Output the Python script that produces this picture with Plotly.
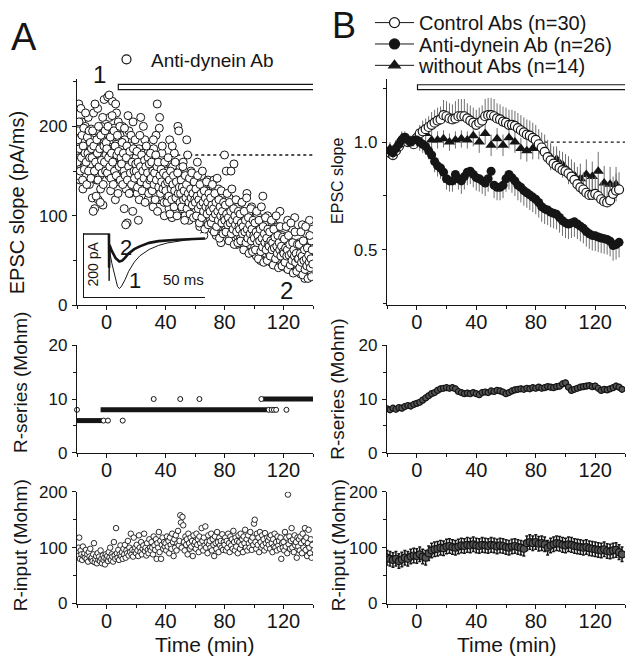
import plotly.graph_objects as go

# ================= DATA =================
# Panel A top: EPSC slope (pA/ms), one cell. Two interleaved sample sets, each every 0.4 min
a_epsc_start, a_epsc_step = -20.0, 0.4
a_epsc = [
    172, 150, 195, 225, 165, 140, 180, 160, 205, 175, 130, 185, 168, 155, 200, 178, 145, 190, 162, 210, 172, 135, 183, 158, 197,
    185, 120, 165, 215, 150, 108, 175, 195, 140, 160, 220, 118, 172, 188, 145, 130, 200, 165, 178, 112, 155, 230, 183, 148, 168,
    192, 160, 233, 175, 145, 210, 168, 128, 185, 155, 228, 170, 140, 198, 162, 118, 180, 215, 150, 172, 205, 138, 165, 190, 158,
    175, 150, 200, 140, 165, 108, 185, 155, 130, 170, 92, 160, 145, 195, 158, 125, 178, 150, 140, 168, 205, 152, 133, 162, 148,
    165, 140, 125, 158, 95, 175, 150, 135, 210, 160, 145, 120, 170, 152, 138, 185, 148, 128, 160, 142, 118, 172, 150, 135, 155,
    150, 130, 165, 142, 110, 175, 138, 155, 125, 190, 145, 225, 135, 160, 118, 210, 148, 128, 140, 170, 120, 155, 135, 100, 145,
    135, 150, 118, 160, 128, 140, 108, 185, 132, 122, 145, 98, 155, 130, 115, 170, 138, 125, 148, 112, 135, 200, 128, 142, 118,
    130, 115, 145, 108, 125, 160, 118, 135, 100, 128, 120, 185, 112, 140, 125, 95, 132, 118, 150, 110, 122, 138, 105, 128, 115,
    120, 105, 135, 112, 160, 98, 125, 115, 88, 130, 108, 145, 118, 100, 122, 78, 135, 110, 102, 128, 115, 95, 140, 108, 118,
    110, 95, 125, 102, 85, 118, 100, 140, 92, 112, 105, 78, 120, 98, 108, 130, 88, 115, 100, 70, 110, 95, 125, 102, 90,
    168, 100, 85, 150, 110, 92, 78, 105, 120, 88, 98, 150, 72, 108, 95, 85, 158, 100, 115, 82, 95, 68, 105, 90, 112,
    88, 100, 75, 95, 115, 82, 70, 92, 105, 80, 62, 98, 85, 125, 75, 90, 102, 68, 88, 78, 95, 110, 72, 85, 60,
    80, 65, 92, 75, 55, 85, 100, 70, 62, 88, 78, 50, 95, 72, 82, 122, 60, 75, 90, 68, 58, 80, 72, 100, 65,
    70, 58, 85, 65, 48, 78, 62, 95, 55, 72, 68, 45, 82, 60, 75, 52, 88, 65, 58, 105, 70, 50, 62, 78, 55,
    62, 50, 75, 55, 42, 68, 58, 95, 48, 60, 72, 40, 55, 65, 85, 52, 45, 62, 58, 98, 50, 38, 68, 55, 60,
    55, 45, 70, 50, 35, 62, 48, 90, 42, 58, 52, 30, 65, 48, 80, 55, 40, 60, 45, 95, 52, 38, 72, 50, 85,
]
a_epsc2_start = -19.8
a_epsc2 = [
    160, 185, 145, 205, 175, 150, 220, 165, 190, 140, 178, 198, 152, 170, 215, 160, 135, 188, 170, 150, 195, 165, 182, 142, 175,
    165, 195, 105, 178, 150, 225, 160, 122, 185, 170, 140, 200, 155, 175, 115, 190, 162, 148, 210, 135, 178, 160, 195, 150, 182,
    175, 148, 200, 165, 235, 155, 188, 142, 170, 212, 160, 135, 195, 150, 178, 225, 145, 168, 190, 125, 172, 155, 200, 140, 165,
    158, 182, 135, 170, 150, 198, 145, 90, 165, 178, 140, 212, 155, 125, 172, 148, 190, 135, 160, 105, 175, 150, 142, 185, 158,
    150, 172, 132, 160, 145, 118, 190, 155, 138, 168, 128, 150, 200, 142, 162, 115, 155, 178, 135, 148, 165, 125, 158, 140, 170,
    142, 160, 128, 150, 185, 135, 148, 118, 168, 140, 155, 105, 160, 132, 198, 145, 125, 152, 138, 178, 130, 148, 115, 160, 135,
    128, 145, 115, 138, 165, 122, 140, 102, 150, 130, 118, 178, 135, 145, 110, 128, 160, 120, 138, 100, 148, 125, 195, 132, 115,
    125, 140, 110, 132, 155, 118, 128, 95, 145, 120, 135, 108, 168, 125, 115, 142, 102, 130, 120, 148, 112, 125, 98, 138, 118,
    115, 130, 100, 122, 145, 108, 118, 92, 135, 112, 125, 98, 150, 115, 105, 128, 85, 120, 110, 138, 102, 115, 90, 125, 108,
    105, 120, 92, 112, 135, 98, 108, 82, 125, 102, 115, 88, 142, 105, 95, 118, 75, 110, 100, 128, 92, 105, 80, 115, 98,
    95, 112, 82, 102, 125, 90, 98, 72, 115, 92, 105, 80, 130, 95, 85, 108, 68, 100, 90, 118, 82, 95, 70, 105, 88,
    85, 102, 72, 92, 115, 80, 88, 62, 105, 82, 95, 70, 120, 85, 75, 98, 58, 90, 80, 108, 72, 85, 60, 95, 78,
    75, 92, 62, 82, 105, 70, 78, 52, 95, 72, 85, 60, 110, 75, 65, 88, 48, 80, 70, 98, 62, 75, 50, 85, 68,
    66, 82, 55, 72, 95, 62, 70, 45, 85, 64, 76, 52, 100, 66, 58, 78, 42, 70, 62, 88, 55, 66, 44, 76, 60,
    58, 74, 48, 64, 88, 55, 62, 40, 78, 56, 68, 45, 92, 58, 50, 70, 36, 62, 55, 82, 48, 58, 38, 68, 52,
    52, 68, 42, 58, 82, 48, 55, 34, 72, 50, 62, 40, 88, 52, 44, 64, 30, 56, 48, 78, 42, 52, 32, 62, 46,
]
a_epsc_time = [round(a_epsc_start + i * a_epsc_step, 2) for i in range(len(a_epsc))]
a_epsc2_time = [round(a_epsc2_start + i * a_epsc_step, 2) for i in range(len(a_epsc2))]
a_baseline = 168          # dotted reference level (pA/ms)
a_baseline_from = 48      # min
a_ab_on, a_ab_off = 8, 141  # antibody application (min)

# Inset: EPSC traces (ms, pA)
ins_t1 = [0, 13.2, 13.4, 13.5, 13.7, 15, 16.5, 18, 19, 20, 22, 24, 27, 30, 35, 40, 45, 50, 55, 60, 65]
ins_i1 = [0, 0, 6, -165, -60, -105, -150, -185, -192, -186, -162, -132, -100, -78, -56, -42, -33, -27, -23, -20, -18]
ins_t2 = [0, 13.2, 13.4, 13.5, 13.7, 15, 17, 19, 20.5, 22, 24, 27, 30, 35, 40, 50, 60, 65]
ins_i2 = [0, 0, 8, -120, -40, -62, -86, -98, -95, -85, -70, -55, -45, -33, -27, -22, -19, -18]

# Panel A middle: R-series (Mohm) — continuous runs and isolated readings
a_rs_level = [6, 8, 10]
a_rs_from = [-20, -4, 106]
a_rs_to = [-3, 109, 140]
a_rs_out_t = [-20, -2, 1, 11, 32, 50, 63, 105, 110, 112, 113.5, 115, 122]
a_rs_out_v = [8, 6, 6, 6, 10, 10, 10, 10, 8, 8, 8, 8, 8]

# Panel A bottom: R-input (Mohm), every 0.5 min from -20 min
a_rin_start, a_rin_step = -20.0, 0.5
a_rin = [
    92, 85, 100, 118, 80, 95, 88, 78, 102, 85, 90, 82, 96, 80, 88, 75, 92, 84, 98, 80,
    82, 76, 88, 108, 74, 80, 85, 72, 90, 78, 84, 76, 95, 80, 72, 86, 78, 82, 70, 88,
    80, 85, 76, 92, 82, 100, 78, 88, 84, 75, 110, 86, 80, 135, 90, 82, 96, 78, 88, 104,
    85, 92, 80, 98, 88, 105, 82, 95, 90, 112, 86, 100, 92, 125, 88, 96, 84, 118, 94, 100,
    90, 105, 95, 85, 122, 100, 92, 110, 88, 98, 104, 125, 94, 100, 86, 108, 96, 90, 115, 100,
    95, 110, 100, 88, 120, 104, 96, 115, 80, 108, 100, 128, 92, 112, 80, 105, 118, 98, 110, 102,
    108, 95, 120, 102, 112, 90, 118, 105, 98, 125, 110, 85, 115, 100, 122, 95, 108, 130, 104, 112,
    158, 145, 100, 155, 140, 110, 95, 120, 105, 115, 88, 125, 108, 98, 118, 102, 112, 85, 122, 106,
    110, 98, 125, 105, 115, 92, 120, 108, 100, 135, 112, 95, 118, 104, 138, 100, 110, 90, 122, 106,
    112, 100, 125, 95, 115, 105, 85, 120, 108, 98, 128, 110, 92, 118, 104, 112, 100, 124, 96, 110,
    105, 118, 95, 112, 100, 125, 108, 92, 120, 104, 115, 98, 130, 110, 95, 118, 102, 112, 90, 122,
    110, 98, 125, 105, 115, 92, 120, 108, 132, 100, 115, 95, 122, 108, 100, 128, 112, 96, 118, 105,
    143, 150, 110, 98, 125, 105, 118, 92, 128, 110, 100, 122, 104, 115, 95, 126, 108, 100, 118, 112,
    105, 118, 98, 122, 108, 92, 115, 102, 125, 100, 110, 95, 120, 104, 112, 98, 118, 80, 108, 100,
    110, 95, 128, 102, 118, 90, 195, 106, 120, 98, 112, 135, 100, 115, 92, 122, 104, 110, 82, 118,
    102, 115, 95, 120, 108, 90, 125, 100, 112, 135, 96, 118, 85, 108, 132, 100, 90, 115, 82, 105,
]
a_rin_time = [round(a_rin_start + i * a_rin_step, 2) for i in range(len(a_rin))]

# Panel B top: normalised EPSC slope, means every 2 min from -18 min
b_time = list(range(-18, 138, 2))
b_ctl = [0.95, 0.94, 0.96, 0.98, 1.00, 1.02, 1.00, 1.00, 0.99, 1.02,
         1.04, 1.05, 1.06, 1.07, 1.08, 1.09, 1.10, 1.105, 1.125, 1.12,
         1.11, 1.105, 1.11, 1.12, 1.12, 1.12, 1.11, 1.10, 1.09, 1.08,
         1.09, 1.10, 1.12, 1.125, 1.125, 1.12, 1.11, 1.105, 1.095, 1.09,
         1.08, 1.08, 1.075, 1.065, 1.055, 1.045, 1.035, 1.03, 1.02, 1.01,
         0.99, 0.975, 0.955, 0.93, 0.915, 0.90, 0.89, 0.88, 0.87, 0.865,
         0.855, 0.84, 0.825, 0.805, 0.79, 0.78, 0.765, 0.755, 0.755, 0.76,
         0.75, 0.735, 0.725, 0.72, 0.73, 0.76, 0.775, 0.78]
b_ctl_err = [0.03, 0.03, 0.03, 0.03, 0.03, 0.03, 0.03, 0.03, 0.03, 0.04,
             0.04, 0.05, 0.05, 0.05, 0.06, 0.06, 0.06, 0.06, 0.07, 0.07,
             0.07, 0.07, 0.08, 0.08, 0.08, 0.08, 0.07, 0.07, 0.07, 0.07,
             0.07, 0.07, 0.08, 0.08, 0.08, 0.08, 0.07, 0.07, 0.07, 0.07,
             0.07, 0.07, 0.07, 0.07, 0.07, 0.07, 0.07, 0.07, 0.07, 0.07,
             0.07, 0.07, 0.08, 0.08, 0.08, 0.08, 0.08, 0.08, 0.08, 0.08,
             0.08, 0.08, 0.08, 0.08, 0.08, 0.08, 0.08, 0.08, 0.08, 0.08,
             0.08, 0.08, 0.08, 0.08, 0.08, 0.08, 0.08, 0.08]
b_ad = [0.96, 0.95, 0.97, 0.99, 1.01, 1.02, 1.01, 1.00, 1.01, 1.01,
        1.00, 0.99, 0.98, 0.96, 0.94, 0.91, 0.89, 0.88, 0.86, 0.83,
        0.82, 0.82, 0.85, 0.83, 0.82, 0.84, 0.86, 0.865, 0.85, 0.835,
        0.83, 0.82, 0.81, 0.83, 0.865, 0.80, 0.79, 0.79, 0.80, 0.83,
        0.85, 0.835, 0.82, 0.80, 0.79, 0.775, 0.765, 0.755, 0.745, 0.735,
        0.72, 0.70, 0.69, 0.685, 0.675, 0.67, 0.665, 0.65, 0.635, 0.625,
        0.62, 0.625, 0.63, 0.62, 0.61, 0.60, 0.585, 0.575, 0.567, 0.565,
        0.56, 0.555, 0.552, 0.548, 0.54, 0.52, 0.525, 0.535]
b_ad_err = [0.03, 0.03, 0.03, 0.03, 0.03, 0.03, 0.03, 0.03, 0.03, 0.03,
            0.04, 0.04, 0.04, 0.04, 0.04, 0.05, 0.05, 0.05, 0.05, 0.05,
            0.05, 0.05, 0.05, 0.05, 0.06, 0.06, 0.06, 0.06, 0.06, 0.06,
            0.06, 0.06, 0.06, 0.06, 0.06, 0.06, 0.06, 0.06, 0.06, 0.06,
            0.07, 0.07, 0.07, 0.07, 0.07, 0.07, 0.07, 0.07, 0.07, 0.07,
            0.07, 0.07, 0.07, 0.07, 0.07, 0.07, 0.07, 0.07, 0.07, 0.07,
            0.07, 0.07, 0.07, 0.07, 0.07, 0.07, 0.07, 0.07, 0.07, 0.07,
            0.07, 0.07, 0.07, 0.07, 0.07, 0.07, 0.07, 0.07]
b_tri_time = list(range(-18, 135, 4))
b_tri = [0.97, 0.98, 1.02, 1.01, 1.00, 1.01, 1.04, 1.01, 1.01, 1.015,
         1.00, 1.01, 1.015, 1.01, 1.03, 1.00, 1.04, 0.985, 1.015, 0.985,
         1.02, 1.00, 0.97, 0.96, 0.97, 0.97, 0.96, 0.93, 0.92, 0.895,
         0.865, 0.845, 0.83, 0.85, 0.84, 0.865, 0.81, 0.805, 0.805]
b_tri_err = [0.03, 0.03, 0.03, 0.03, 0.03, 0.03, 0.04, 0.04, 0.04, 0.04,
             0.04, 0.04, 0.04, 0.04, 0.05, 0.05, 0.05, 0.05, 0.05, 0.05,
             0.05, 0.05, 0.05, 0.05, 0.05, 0.05, 0.05, 0.06, 0.06, 0.06,
             0.06, 0.06, 0.07, 0.07, 0.07, 0.09, 0.08, 0.08, 0.08]
b_baseline = 1.0
b_baseline_from = 82
b_ab_on, b_ab_off = 0.5, 141

# Panel B middle / bottom: mean R-series and R-input, every 2 min from -20 min
b_r_time = list(range(-20, 139, 2))
b_rs = [8.2, 8.0, 8.3, 8.1, 8.4, 8.3, 8.6, 8.8, 8.7, 9.0,
        9.2, 9.4, 9.8, 10.2, 10.6, 11.0, 11.2, 11.6, 11.9, 12.0,
        12.1, 12.0, 12.1, 11.9, 11.4, 11.2, 11.0, 11.1, 11.0, 11.2,
        11.0, 10.8, 11.2, 11.3, 11.2, 11.5, 11.4, 11.6, 11.5, 11.3,
        11.0, 11.2, 11.5, 11.7, 11.8, 11.9, 11.8, 12.0, 11.9, 12.1,
        12.0, 12.2, 12.0, 12.1, 12.3, 12.2, 12.1, 12.3, 12.4, 12.8,
        13.0, 12.2, 11.6, 11.8, 12.0, 12.2, 12.3, 12.4, 12.5, 12.3,
        12.4, 12.0, 11.6, 11.8, 11.7, 11.9, 12.1, 12.4, 12.2, 11.8]
b_rs_err = 0.6
b_rin = [82, 80, 78, 80, 76, 79, 82, 80, 84, 86,
         85, 88, 84, 82, 90, 95, 97, 98, 100, 99,
         102, 103, 101, 100, 102, 104, 103, 105, 104, 106,
         104, 103, 105, 104, 103, 105, 104, 102, 104, 103,
         101, 100, 102, 103, 101, 100, 98, 108, 110, 108,
         110, 107, 108, 106, 100, 104, 106, 108, 107, 105,
         104, 106, 105, 103, 102, 101, 100, 101, 99, 98,
         97, 96, 95, 97, 94, 93, 95, 96, 92, 88]
b_rin_err = 13

# ================= FIGURE =================
W, H = 628, 665
def px(x): return x / W
def py(y): return 1 - y / H

INK = "#151515"
FONT = "Liberation Sans, Arial, sans-serif"

fig = go.Figure()

# --- A top
for tt, vv in ((a_epsc_time, a_epsc), (a_epsc2_time, a_epsc2)):
    fig.add_trace(go.Scatter(x=tt, y=vv, mode="markers", xaxis="x", yaxis="y",
                             marker=dict(symbol="circle", size=8, color="white", line=dict(color=INK, width=1)),
                             showlegend=False))
# legend entry for A
fig.add_trace(go.Scatter(x=[None], y=[None], mode="markers", name="Anti-dynein Ab", legend="legend2",
                         marker=dict(symbol="circle", size=9, color="white", line=dict(color=INK, width=1.2))))

# inset traces
fig.add_trace(go.Scatter(x=ins_t1, y=ins_i1, mode="lines", xaxis="x7", yaxis="y7",
                         line=dict(color=INK, width=1), showlegend=False))
fig.add_trace(go.Scatter(x=ins_t2, y=ins_i2, mode="lines", xaxis="x7", yaxis="y7",
                         line=dict(color=INK, width=2.6), showlegend=False))

# --- A middle
for lv, f, t in zip(a_rs_level, a_rs_from, a_rs_to):
    fig.add_trace(go.Scatter(x=[f, t], y=[lv, lv], mode="lines", xaxis="x3", yaxis="y3",
                             line=dict(color=INK, width=5), showlegend=False))
fig.add_trace(go.Scatter(x=a_rs_out_t, y=a_rs_out_v, mode="markers", xaxis="x3", yaxis="y3",
                         marker=dict(symbol="circle", size=5, color="white", line=dict(color=INK, width=1)),
                         showlegend=False, cliponaxis=False))

# --- A bottom
fig.add_trace(go.Scatter(x=a_rin_time, y=a_rin, mode="markers", xaxis="x5", yaxis="y5",
                         marker=dict(symbol="circle", size=5.5, color="white", line=dict(color=INK, width=0.9)),
                         showlegend=False))

# --- B top
ERR = "#707070"
fig.add_trace(go.Scatter(x=b_tri_time, y=b_tri, mode="markers", xaxis="x2", yaxis="y2",
                         error_y=dict(type="data", array=b_tri_err, color=ERR, thickness=1, width=0),
                         marker=dict(symbol="triangle-up", size=10, color=INK), showlegend=False))
fig.add_trace(go.Scatter(x=b_time, y=b_ctl, mode="markers", xaxis="x2", yaxis="y2",
                         error_y=dict(type="data", symmetric=False, array=b_ctl_err,
                                      arrayminus=[0] * len(b_ctl_err), color=ERR, thickness=1, width=0),
                         marker=dict(symbol="circle", size=9, color="white", line=dict(color=INK, width=1.2)),
                         showlegend=False))
fig.add_trace(go.Scatter(x=b_time, y=b_ad, mode="markers", xaxis="x2", yaxis="y2",
                         error_y=dict(type="data", symmetric=False, array=[0] * len(b_ad_err),
                                      arrayminus=b_ad_err, color=ERR, thickness=1, width=0),
                         marker=dict(symbol="circle", size=9, color=INK), showlegend=False))
# legend entries for B (one legend box per line so the spacing matches)
for lg, nm, sym, col in [("legend", "Control Abs (n=30)", "circle", "white"),
                         ("legend3", "Anti-dynein Ab (n=26)", "circle", INK),
                         ("legend4", "without Abs (n=14)", "triangle-up", INK)]:
    fig.add_trace(go.Scatter(x=[None], y=[None], mode="lines+markers", name=nm, legend=lg,
                             xaxis="x2", yaxis="y2",
                             line=dict(color=INK, width=1),
                             marker=dict(symbol=sym, size=10, color=col, line=dict(color=INK, width=1.2))))

# --- B middle
fig.add_trace(go.Scatter(x=b_r_time, y=b_rs, mode="lines+markers", xaxis="x4", yaxis="y4",
                         error_y=dict(type="constant", value=b_rs_err, color=INK, thickness=1.4, width=0),
                         line=dict(color=INK, width=4),
                         marker=dict(symbol="circle", size=6, color="#555555", line=dict(color=INK, width=1.2)),
                         showlegend=False))
# --- B bottom
fig.add_trace(go.Scatter(x=b_r_time, y=b_rin, mode="lines+markers", xaxis="x6", yaxis="y6",
                         error_y=dict(type="constant", value=b_rin_err, color=INK, thickness=1.5, width=1.5),
                         line=dict(color=INK, width=4),
                         marker=dict(symbol="circle", size=7, color="#555555", line=dict(color=INK, width=1.2)),
                         showlegend=False))

# ---------- axes ----------
def xax(domain, anchor):
    return dict(domain=domain, anchor=anchor, range=[-20, 140], showgrid=False, zeroline=False,
                showline=True, linecolor=INK, linewidth=1.3, ticks="outside", ticklen=4,
                tickcolor=INK, tickwidth=1.2, tickvals=[0, 40, 80, 120], ticklabelstandoff=-5,
                minor=dict(tickvals=[-20, 20, 60, 100, 140], ticklen=3, ticks="outside", tickcolor=INK),
                tickfont=dict(family=FONT, size=20, color=INK))

def yax(domain, anchor, rng, tv, mv, fmt=None):
    d = dict(domain=domain, anchor=anchor, range=rng, showgrid=False, zeroline=False,
             showline=True, linecolor=INK, linewidth=1.3, ticks="outside", ticklen=4,
             tickcolor=INK, tickwidth=1.2, tickvals=tv, ticklabelstandoff=1,
             minor=dict(tickvals=mv, ticklen=3, ticks="outside", tickcolor=INK),
             tickfont=dict(family=FONT, size=17, color=INK))
    if fmt:
        d["tickformat"] = fmt
    return d

xA = [px(77), px(313)]
xB = [px(387), px(625)]
yTop = [py(305), py(72)]
yMid = [py(457), py(346)]
yBot = [py(612), py(497)]

fig.update_layout(
    xaxis=xax(xA, "y"), yaxis=yax(yTop, "x", [0, 253], [0, 100, 200], [50, 150, 250]),
    xaxis2=xax(xB, "y2"), yaxis2=yax(yTop, "x2", [0.243, 1.293], [0.5, 1.0], [0.25, 0.75, 1.25], ".1f"),
    xaxis3=xax(xA, "y3"), yaxis3=yax(yMid, "x3", [0, 20], [0, 10, 20], [5, 15]),
    xaxis4=xax(xB, "y4"), yaxis4=yax(yMid, "x4", [0, 20], [0, 10, 20], [5, 15]),
    xaxis5=xax(xA, "y5"), yaxis5=yax(yBot, "x5", [0, 200], [0, 100, 200], [50, 150]),
    xaxis6=xax(xB, "y6"), yaxis6=yax(yBot, "x6", [0, 200], [0, 100, 200], [50, 150]),
    xaxis7=dict(domain=[px(84), px(205)], anchor="y7", range=[0, 65], showgrid=False, zeroline=False,
                showline=True, linecolor=INK, linewidth=1, ticks="", showticklabels=False),
    yaxis7=dict(domain=[py(296), py(231)], anchor="x7", range=[-220, 0], showgrid=False, zeroline=False,
                showline=True, linecolor=INK, linewidth=1, ticks="", showticklabels=False),
)

# ---------- shapes ----------
shapes = [
    dict(type="rect", xref="x", yref="y", x0=a_ab_on, x1=a_ab_off, y0=241, y1=247,
         line=dict(color=INK, width=1.2), fillcolor="white", layer="above"),
    dict(type="rect", xref="x2", yref="y2", x0=b_ab_on, x1=b_ab_off, y0=1.243, y1=1.266,
         line=dict(color=INK, width=1.2), fillcolor="white", layer="above"),
    dict(type="line", xref="x", yref="y", x0=a_baseline_from, x1=140, y0=a_baseline, y1=a_baseline,
         line=dict(color=INK, width=1.3, dash="dot"), layer="below"),
    dict(type="line", xref="x2", yref="y2", x0=b_baseline_from, x1=140, y0=b_baseline, y1=b_baseline,
         line=dict(color=INK, width=1.3, dash="dot"), layer="below"),
]

# ---------- annotations ----------
def ann(text, x, y, size, angle=0, xanchor="center"):
    return dict(text=text, x=px(x), y=py(y), xref="paper", yref="paper", showarrow=False,
                textangle=angle, xanchor=xanchor, yanchor="middle",
                font=dict(family=FONT, size=size, color=INK))

anns = [
    ann("A", 24, 29, 38),
    ann("B", 344, 17, 36),
    ann("1", 99, 67, 24),
    ann("2", 286, 290, 24),
    ann("1", 135, 279, 22),
    ann("2", 126, 246, 22),
    ann("200 pA", 93, 263, 14, angle=-90),
    ann("50 ms", 183, 278, 15),
    ann("EPSC slope (pA/ms)", 17, 200, 20, angle=-90),
    ann("R-series (Mohm)", 20, 385, 19, angle=-90),
    ann("R-input (Mohm)", 20, 552, 19, angle=-90),
    ann("EPSC slope", 338, 177, 16, angle=-90),
    ann("R-series (Mohm)", 338, 392, 19, angle=-90),
    ann("R-input (Mohm)", 338, 552, 19, angle=-90),
    ann("Time (min)", 205, 654, 21),
    ann("Time (min)", 507, 654, 21),
]

def lgd(x, y, size):
    return dict(x=px(x), y=py(y), xanchor="left", yanchor="middle", bgcolor="rgba(0,0,0,0)",
                font=dict(family=FONT, size=size, color=INK), tracegroupgap=0, itemwidth=39,
                borderwidth=0)

fig.update_layout(
    width=W, height=H, margin=dict(l=0, r=0, t=0, b=0),
    paper_bgcolor="white", plot_bgcolor="white",
    font=dict(family=FONT, color=INK),
    shapes=shapes, annotations=anns,
    legend=lgd(370, 14, 20),
    legend3=lgd(370, 36, 20),
    legend4=lgd(370, 58, 20),
    legend2=lgd(102, 52, 19),
)

fig.write_html("out.html", config={"displayModeBar": False},
               post_script="document.body.style.margin='0px';")
